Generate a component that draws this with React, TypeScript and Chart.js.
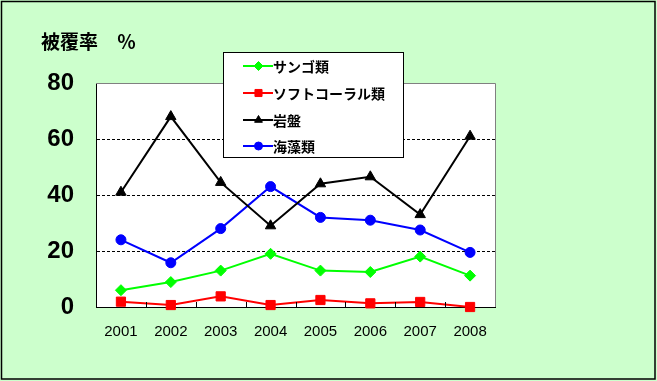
import { useEffect, useRef } from 'react';
import { Chart, registerables } from 'chart.js';
import { drawPoint } from 'chart.js/helpers';

Chart.register(...registerables);

const years = ['2001', '2002', '2003', '2004', '2005', '2006', '2007', '2008'];
const coral = [6, 8.9, 13, 19, 13, 12.5, 18, 11.2];
const softCoral = [1.9, 0.7, 3.8, 0.7, 2.5, 1.3, 1.8, 0];
const rock = [41, 68, 44.5, 29, 44, 46.5, 33, 61];
const algae = [24, 15.8, 28, 43, 32, 31, 27.5, 19.5];
const seriesLabels = ['サンゴ類', 'ソフトコーラル類', '岩盤', '海藻類'];
const yTicks = [0, 20, 40, 60, 80];
const titleText = '被覆率　％';

const seriesColors = ['#00FF00', '#FF0000', '#000000', '#0000FF'];
const seriesPoints = ['rectRot', 'rect', 'triangle', 'circle'];
const seriesRadius = [5.5, 6.5, 6, 5];
const legendRadius = [4.5, 5, 4.5, 4];

const JP = "'Noto Sans CJK JP', sans-serif";

const decorPlugin = {
  id: 'decor',
  beforeDraw(chart: any) {
    const { ctx, width, height, chartArea } = chart;
    ctx.save();
    ctx.fillStyle = '#CCFFCC';
    ctx.fillRect(0, 0, width, height);
    ctx.strokeStyle = '#000';
    ctx.lineWidth = 1.5;
    ctx.strokeRect(1.5, 1.5, width - 3.5, height - 3.5);
    ctx.fillStyle = '#FFFFFF';
    ctx.fillRect(chartArea.left, chartArea.top, chartArea.right - chartArea.left, chartArea.bottom - chartArea.top);
    ctx.restore();
  },
  afterDraw(chart: any) {
    const { ctx, chartArea } = chart;
    const xs = chart.scales.x;
    ctx.save();
    // top & right grey border
    ctx.strokeStyle = '#808080';
    ctx.lineWidth = 1;
    ctx.beginPath();
    ctx.moveTo(chartArea.left, chartArea.top + 0.5);
    ctx.lineTo(chartArea.right + 0.5, chartArea.top + 0.5);
    ctx.lineTo(chartArea.right + 0.5, chartArea.bottom);
    ctx.stroke();
    // inner tick marks at category boundaries
    ctx.strokeStyle = '#000';
    ctx.beginPath();
    for (let i = 0; i < years.length - 1; i++) {
      const px = Math.round((xs.getPixelForValue(i) + xs.getPixelForValue(i + 1)) / 2) + 0.5;
      ctx.moveTo(px, chartArea.bottom);
      ctx.lineTo(px, chartArea.bottom - 5);
    }
    ctx.stroke();

    // title
    ctx.fillStyle = '#000';
    ctx.font = `bold 19px ${JP}`;
    ctx.textBaseline = 'middle';
    ctx.textAlign = 'left';
    ctx.fillText(titleText, 41, 42);

    // legend box
    const bx = 223.5, by = 52.5, bw = 180, bh = 105;
    ctx.fillStyle = '#FFFFFF';
    ctx.fillRect(bx, by, bw, bh);
    ctx.strokeStyle = '#000';
    ctx.lineWidth = 1;
    ctx.strokeRect(bx, by, bw, bh);
    const rowY = [66, 93, 120, 146];
    chart.data.datasets.forEach((ds: any, i: number) => {
      const y = rowY[i];
      ctx.strokeStyle = ds.borderColor;
      ctx.lineWidth = 2;
      ctx.beginPath();
      ctx.moveTo(243, y);
      ctx.lineTo(273, y);
      ctx.stroke();
      ctx.fillStyle = ds.backgroundColor;
      ctx.strokeStyle = ds.borderColor;
      ctx.lineWidth = 1;
      drawPoint(ctx, { pointStyle: ds.pointStyle, radius: legendRadius[i], rotation: 0, borderWidth: 1 }, 258.5, y);
      ctx.fillStyle = '#000';
      ctx.font = `bold 14px ${JP}`;
      ctx.textBaseline = 'middle';
      ctx.fillText(ds.label, 273, y + 1);
    });
    ctx.restore();
  },
};

export default function App() {
  const ref = useRef<HTMLCanvasElement>(null);
  useEffect(() => {
    document.body.style.margin = '0';
    if (!ref.current) return;
    const seriesData = [coral, softCoral, rock, algae];
    const chart = new Chart(ref.current, {
      type: 'line',
      data: {
        labels: years,
        datasets: seriesData.map((d, i) => ({
          label: seriesLabels[i],
          data: d,
          borderColor: seriesColors[i],
          backgroundColor: seriesColors[i],
          borderWidth: 2,
          pointStyle: seriesPoints[i] as any,
          pointRadius: seriesRadius[i],
          pointBorderWidth: 1,
          tension: 0,
          clip: false as any,
        })),
      },
      options: {
        animation: false,
        responsive: false,
        layout: { padding: { top: 83, right: 162, bottom: 0, left: 0 } },
        plugins: { legend: { display: false }, tooltip: { enabled: false }, title: { display: false } },
        scales: {
          x: {
            type: 'category',
            offset: true,
            grid: { display: false, drawTicks: false },
            border: { color: '#000', width: 1 },
            ticks: { color: '#000', font: { family: 'Arial, "Liberation Sans"', size: 15 }, padding: 16 },
            afterFit: (s: any) => { s.height = 74; },
          },
          y: {
            min: 0,
            max: 80,
            afterBuildTicks: (s: any) => { s.ticks = yTicks.map((v) => ({ value: v })); },
            ticks: { color: '#000', font: { family: 'Arial, "Liberation Sans"', size: 24, weight: 'bold' }, padding: 22 },
            grid: {
              drawTicks: false,
              color: (c: any) => (c.tick && (c.tick.value === 0 || c.tick.value === 80) ? 'rgba(0,0,0,0)' : '#000'),
              lineWidth: 1,
            },
            border: { color: '#000', width: 1, dash: [3, 2] },
            afterFit: (s: any) => { s.width = 96; },
          },
        },
      },
      plugins: [decorPlugin],
    });
    return () => chart.destroy();
  }, []);
  return (
    <div style={{ width: 657, height: 381 }}>
      <canvas ref={ref} width={657} height={381} style={{ display: 'block' }} />
    </div>
  );
}
